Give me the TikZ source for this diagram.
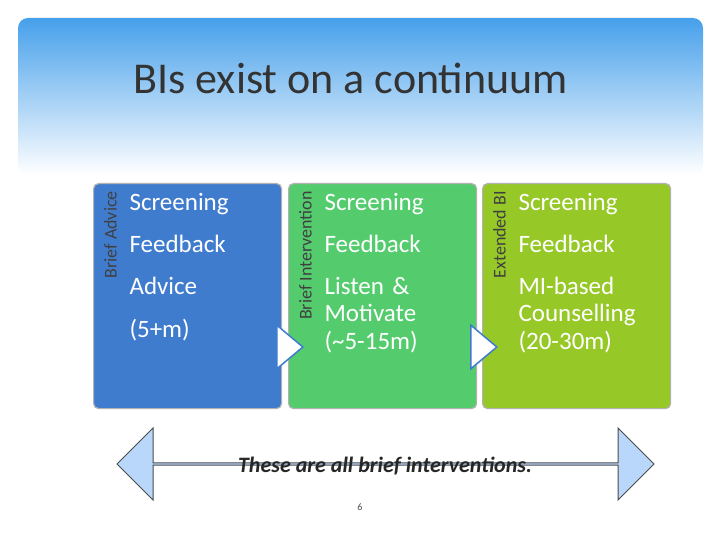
\documentclass[tikz,border=0pt]{standalone}
\usepackage{fontspec}
\setmainfont{Carlito}
\usetikzlibrary{shapes.arrows,shapes.geometric}
\definecolor{hdrblue}{RGB}{70,160,235}
\definecolor{boxblue}{RGB}{64,124,206}
\definecolor{boxgreen}{RGB}{84,204,110}
\definecolor{boxlime}{RGB}{150,200,40}
\definecolor{arrowfill}{RGB}{185,215,250}
\tikzset{
  stagebox/.style={draw=gray!60, line width=1.2pt, rounded corners=5pt, minimum width=188pt, minimum height=225pt, anchor=north west},
  sidelabel/.style={rotate=90, font=\fontsize{18}{18}\selectfont, text=black!75, anchor=north east, inner sep=1pt},
  itemtext/.style={font=\fontsize{25}{27}\selectfont, text=white, anchor=north west, align=left},
  steptri/.style={isosceles triangle, draw=boxblue, line width=1.5pt, fill=white, minimum height=26pt, minimum width=26pt, inner sep=0pt, isosceles triangle apex angle=80}
}
\begin{document}
\begin{tikzpicture}[x=1pt,y=-1pt]
\useasboundingbox (0,0) rectangle (720,540);
\fill[white] (0,0) rectangle (720,540);
\shade[top color=hdrblue, bottom color=white, rounded corners=10pt] (18,18) rectangle (703,175);
\node[anchor=west, font=\fontsize{44}{44}\selectfont, text=black!80] (title) at (130,78) {BIs exist on a continuum};

% Boxes
\node[stagebox, fill=boxblue] (b1) at (93,183) {};
\node[stagebox, fill=boxgreen] (b2) at (288,183) {};
\node[stagebox, fill=boxlime] (b3) at (482,183) {};

% Side labels
\node[sidelabel] (l1) at (103,190) {Brief Advice};
\node[sidelabel] (l2) at (298,190) {Brief Intervention};
\node[sidelabel] (l3) at (492,190) {Extended BI};

% Items
\node[itemtext] (s1) at (126,190) {Screening};
\node[itemtext] (f1) at (126,232) {Feedback};
\node[itemtext] (a1) at (126,274) {Advice};
\node[itemtext] (t1) at (126,316) {(5+m)};

\node[itemtext] (s2) at (321,190) {Screening};
\node[itemtext] (f2) at (321,232) {Feedback};
\node[itemtext, text width=140pt] (a2) at (321,274) {Listen \&\\Motivate};
\node[itemtext] (t2) at (321,328) {(\textasciitilde5-15m)};

\node[itemtext] (s3) at (515,190) {Screening};
\node[itemtext] (f3) at (515,232) {Feedback};
\node[itemtext, text width=150pt] (a3) at (515,274) {MI-based\\Counselling};
\node[itemtext] (t3) at (515,328) {(20-30m)};

% Step arrows
\node[steptri] (g1) at (287,347) {};
\node[steptri] (g2) at (481,347) {};

% Bottom arrow
\node[double arrow, draw=black!70, line width=1pt, fill=arrowfill, double arrow head extend=14pt,
  minimum width=72pt, minimum height=537pt, inner sep=0pt, double arrow head indent=0pt] (bar) at (385.5,464) {};
\node[font=\fontsize{22}{22}\selectfont\bfseries\itshape, text=black!85] (note) at (385,466) {These are all brief interventions.};
\node[font=\fontsize{10}{10}\selectfont, text=black!70] (page) at (360,507) {6};
\end{tikzpicture}
\end{document}
